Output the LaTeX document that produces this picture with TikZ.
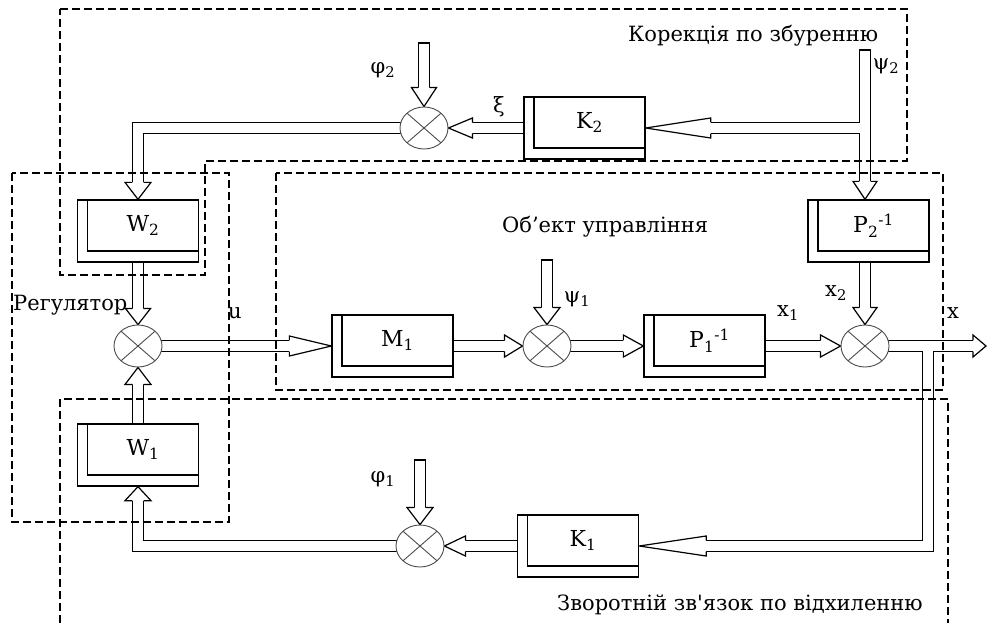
\documentclass[tikz,border=0pt]{standalone}
\usepackage{fontspec}
\setmainfont{DejaVu Serif}
\usetikzlibrary{shapes.geometric,calc,backgrounds}
\newcommand\ahead[4]{\filldraw[fill=white, line width=1.2pt, shift={#1}, rotate=#2] (-#3,5.6) -- (-#3,#4) -- (0,0) -- (-#3,-#4) -- (-#3,-5.6);}
\newcommand\shafts[1]{%
 \draw[#1] (psi2in) -- ($(right.north |- P2.north)+(0,-18)$);
 \draw[#1] (psi2in |- K2.east) -- ($(K2.east)+(65,0)$);
 \draw[#1] (K2.west) -- ($(top.east)+(24,0)$);
 \draw[#1] (phi2in) -- ($(top.north)+(0,-19)$);
 \draw[#1] (top.center) -| ($(W2.north)+(0,-17)$);
 \draw[#1] (W2.south) -- ($(reg.north)+(0,-16)$);
 \draw[#1] (W1.north) -- ($(reg.south)+(0,17)$);
 \draw[#1] (bot.center) -| ($(W1.south)+(0,14)$);
 \draw[#1] (K1.west) -- ($(bot.east)+(21,0)$);
 \draw[#1] (phi1in) -- ($(bot.north)+(0,-17)$);
 \draw[#1] (reg.center) -- ($(M1.west)+(-42,0)$);
 \draw[#1] (M1.east) -- ($(mid.west)+(-18,0)$);
 \draw[#1] (psi1in) -- ($(mid.north)+(0,-17)$);
 \draw[#1] (mid.center) -- ($(P1.west)+(-20,0)$);
 \draw[#1] (P1.east) -- ($(right.west)+(-20,0)$);
 \draw[#1] (right.north |- P2.south) -- ($(right.north)+(0,-17)$);
 \draw[#1] (right.center) -- ($(xout)+(-13,0)$);
 \draw[#1] (Tright) |- ($(K1.east)+(67,0)$);
}
\begin{document}
\begin{tikzpicture}[x=1pt,y=-1pt,
  blk/.style={draw, line width=1.3pt, fill=white, rectangle, minimum width=121pt, minimum height=62pt, inner sep=0pt,
     path picture={\draw[line width=1.3pt] ([xshift=10pt]path picture bounding box.north west) |- ([yshift=11pt]path picture bounding box.south east);}},
  sumj/.style={draw=black!70, line width=0.9pt, fill=white, ellipse, minimum width=48pt, minimum height=42pt, inner sep=0pt,
     path picture={\draw[black!70, line width=0.9pt] ($(path picture bounding box.center)+(-17,-14.8)$) -- ($(path picture bounding box.center)+(17,14.8)$) ($(path picture bounding box.center)+(-17,14.8)$) -- ($(path picture bounding box.center)+(17,-14.8)$);}},
  outerS/.style={line width=12.4pt, black},
  innerS/.style={line width=10pt, white},
  txt/.style={font=\fontsize{21}{25}\selectfont, inner sep=0pt, anchor=base west},
  lbl/.style={font=\fontsize{21}{25}\selectfont, inner sep=0pt},
  bl/.style={font=\fontsize{22}{26}\selectfont, inner sep=0pt},
  dbox/.style={dash pattern=on 8pt off 4pt, line width=1.4pt}
]
\useasboundingbox (0,0) rectangle (987,623);

% blocks
\node[blk] (K2) at (584.5,128) {};
\node[blk] (W2) at (138,231) {};
\node[blk] (W1) at (138,455) {};
\node[blk] (M1) at (392.5,346) {};
\node[blk] (P1) at (704.5,346) {};
\node[blk] (P2) at (868.5,231) {};
\node[blk] (K1) at (578,546) {};

\node[bl] (K2t) at ($(K2.center)+(5,-5.5)$) {K\textsubscript{2}};
\node[bl] (W2t) at ($(W2.center)+(5,-5.5)$) {W\textsubscript{2}};
\node[bl] (W1t) at ($(W1.center)+(5,-5.5)$) {W\textsubscript{1}};
\node[bl] (M1t) at ($(M1.center)+(5,-5.5)$) {M\textsubscript{1}};
\node[bl] (P1t) at ($(P1.center)+(5,-5.5)$) {P\textsubscript{1}\textsuperscript{-1}};
\node[bl] (P2t) at ($(P2.center)+(5,-5.5)$) {P\textsubscript{2}\textsuperscript{-1}};
\node[bl] (K1t) at ($(K1.center)+(5,-5.5)$) {K\textsubscript{1}};

% summing junctions
\node[sumj] (top) at (424,128) {};
\node[sumj] (reg) at (138,346) {};
\node[sumj] (mid) at (547,346) {};
\node[sumj] (right) at (865,346) {};
\node[sumj] (bot) at (420,546) {};

% free ends
\coordinate (psi2in) at (865,50);
\coordinate (phi2in) at (424,43);
\coordinate (phi1in) at (420,460);
\coordinate (psi1in) at (547,260);
\coordinate (xout) at (986,346);
\coordinate (Tright) at (928,346);

\begin{pgfonlayer}{background}
 \shafts{outerS}
 \shafts{innerS}
 \ahead{(right.north |- P2.north)}{-90}{18}{12}
 \ahead{(K2.east)}{180}{65}{10}
 \ahead{(top.east)}{180}{24}{10}
 \ahead{(top.north)}{-90}{19}{12.5}
 \ahead{(W2.north)}{-90}{17}{13}
 \ahead{(reg.north)}{-90}{16}{12.5}
 \ahead{(reg.south)}{90}{17}{13}
 \ahead{(W1.south)}{90}{14}{13}
 \ahead{(bot.east)}{180}{21}{10}
 \ahead{(bot.north)}{-90}{17}{13}
 \ahead{(M1.west)}{0}{42}{10}
 \ahead{(mid.west)}{0}{18}{11}
 \ahead{(mid.north)}{-90}{17}{13}
 \ahead{(P1.west)}{0}{20}{11}
 \ahead{(right.west)}{0}{20}{11}
 \ahead{(right.north)}{-90}{17}{12}
 \ahead{(xout)}{0}{13}{11}
 \ahead{(K1.east)}{180}{67}{10}
 \foreach \c in {psi2in,phi2in,phi1in,psi1in}
   \draw[line width=1.2pt] ([xshift=-6.2pt]\c) -- ([xshift=6.2pt]\c);
\end{pgfonlayer}

% dashed boxes
\draw[dbox] (60,9) -- (907,9) -- (907,161) -- (205,161) -- (205,275) -- (60,275) -- cycle;
\draw[dbox] (12,173) rectangle (229,522);
\draw[dbox] (276,173) rectangle (943,390);
\draw[dbox] (60,623) -- (60,399) -- (948,399) -- (948,623);

% texts
\node[txt] (t1) at (628,42) {Корекція по збуренню};
\node[txt] (t2) at (502,232) {Об’ект управління};
\node[txt] (t3) at (13,310) {Регулятор};
\node[txt] (t4) at (557,610) {Зворотній зв\textquotesingle язок по відхиленню};

% signal labels
\node[lbl] (lphi2) at (383,70) {φ\textsubscript{2}};
\node[lbl] (lxi) at (499,107) {ξ};
\node[lbl] (lpsi2) at (886,66) {ψ\textsubscript{2}};
\node[lbl] (lpsi1) at (577,299) {ψ\textsubscript{1}};
\node[lbl] (lx1) at (788,313) {x\textsubscript{1}};
\node[lbl] (lx2) at (836,293) {x\textsubscript{2}};
\node[lbl] (lx) at (953,313) {x};
\node[lbl] (lphi1) at (383,479) {φ\textsubscript{1}};
\node[lbl] (lu) at (235,313) {u};
\end{tikzpicture}
\end{document}
